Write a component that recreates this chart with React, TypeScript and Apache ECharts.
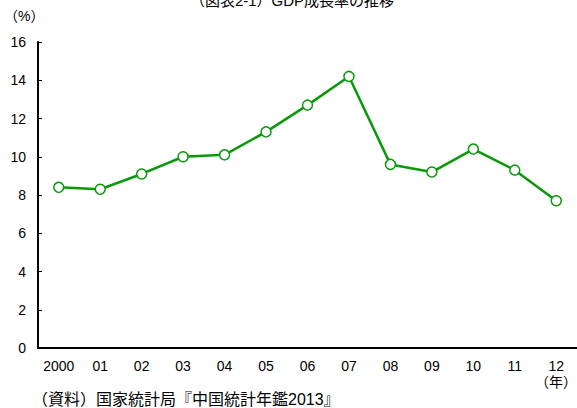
import React, { useEffect, useRef } from "react";
import * as echarts from "echarts";

const categories = ["2000", "01", "02", "03", "04", "05", "06", "07", "08", "09", "10", "11", "12"];
const gdpGrowth = [8.4, 8.3, 9.1, 10.0, 10.1, 11.3, 12.7, 14.2, 9.6, 9.2, 10.4, 9.3, 7.7];
const titleText = "（図表2-1）GDP成長率の推移";
const yUnit = "（%）";
const xUnit = "（年）";
const sourceText = "（資料）国家統計局『中国統計年鑑2013』";

const GREEN = "#0a990a";
const FONT = "'Liberation Sans', Arial, 'Noto Sans CJK JP', sans-serif";
const JFONT = "'Liberation Sans', 'Noto Sans CJK JP', sans-serif";

export default function App() {
  const ref = useRef<HTMLDivElement>(null);
  useEffect(() => {
    if (!ref.current) return;
    const chart = echarts.init(ref.current, undefined, { renderer: "svg" });
    chart.setOption({
      animation: false,
      backgroundColor: "#fff",
      grid: { left: 38, right: -3, top: 42, bottom: 60 },
      xAxis: {
        type: "category",
        data: categories,
        boundaryGap: true,
        axisLine: { lineStyle: { color: "#000", width: 2 } },
        axisTick: { inside: true, length: 4, lineStyle: { color: "#000", width: 1 } },
        axisLabel: { color: "#000", fontSize: 14, fontFamily: FONT, margin: 11 },
        splitLine: { show: false },
      },
      yAxis: {
        type: "value",
        min: 0,
        max: 16,
        interval: 2,
        axisLine: { show: true, lineStyle: { color: "#000", width: 2 } },
        axisTick: { show: true, inside: true, length: 4, lineStyle: { color: "#000", width: 1 } },
        axisLabel: { color: "#000", fontSize: 14, fontFamily: FONT, margin: 12 },
        splitLine: { show: false },
      },
      series: [
        {
          type: "line",
          data: gdpGrowth,
          symbol: "circle",
          symbolSize: 10,
          lineStyle: { color: GREEN, width: 2.5 },
          itemStyle: { color: "#fff", borderColor: GREEN, borderWidth: 1.5 },
        },
      ],
      graphic: [
        {
          type: "text",
          x: 292,
          y: -7,
          style: { text: titleText, fontSize: 15, fontFamily: JFONT, fill: "#000", textAlign: "center" },
        },
        {
          type: "text",
          x: 4,
          y: 9,
          style: { text: yUnit, fontSize: 14, fontFamily: JFONT, fill: "#000" },
        },
        {
          type: "text",
          x: 535,
          y: 375,
          style: { text: xUnit, fontSize: 14, fontFamily: JFONT, fill: "#000" },
        },
        {
          type: "text",
          x: 32,
          y: 391,
          style: { text: sourceText, fontSize: 16, fontFamily: JFONT, fill: "#000" },
        },
      ],
    });
    return () => chart.dispose();
  }, []);
  return <div ref={ref} style={{ width: 577, height: 408, position: "absolute", left: 0, top: 0 }} />;
}
